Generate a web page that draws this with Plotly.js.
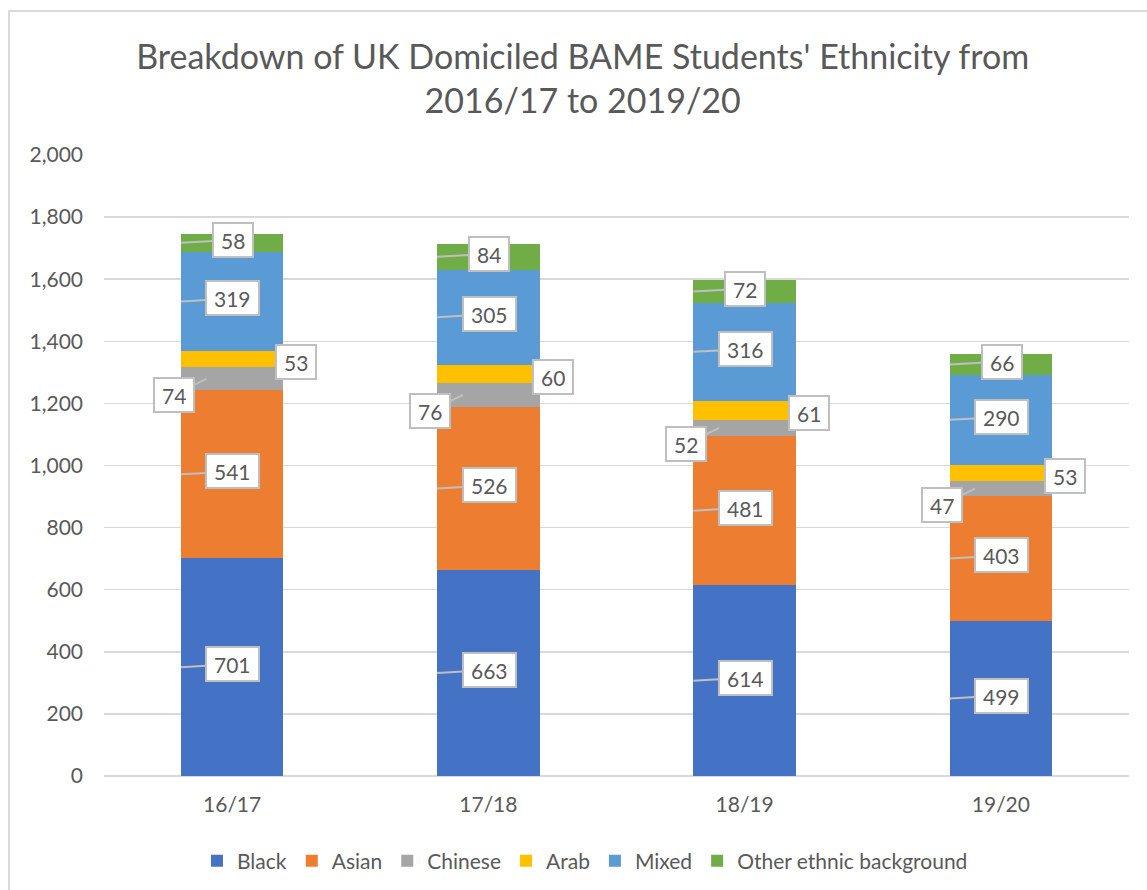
<!DOCTYPE html>
<html>
<head>
<meta charset="utf-8">
<script src="https://cdn.plot.ly/plotly-3.0.1.min.js"></script>
<style>
  html, body { margin: 0; padding: 0; background: #ffffff; overflow: hidden; }
  #frame { position: absolute; left: 8px; top: 10px; width: 1300px; height: 1000px; border: 2px solid #d9d9d9; box-sizing: border-box; }
  #chart { position: absolute; left: 0; top: 0; width: 1147px; height: 890px; }
</style>
</head>
<body>
<div id="frame"></div>
<div id="chart"></div>
<script>
// ---- data ----
const categories = ['16/17', '17/18', '18/19', '19/20'];
const seriesNames = ['Black', 'Asian', 'Chinese', 'Arab', 'Mixed', 'Other ethnic background'];
const black   = [701, 663, 614, 499];
const asian   = [541, 526, 481, 403];
const chinese = [74, 76, 52, 47];
const arab    = [53, 60, 61, 53];
const mixed   = [319, 305, 316, 290];
const other   = [58, 84, 72, 66];
const titleText = "Breakdown of UK Domiciled BAME Students' Ethnicity from<br>2016/17 to 2019/20";

// ---- styling ----
const values = [black, asian, chinese, arab, mixed, other];
const colors = ['#4472C4', '#ED7D31', '#A5A5A5', '#FFC000', '#5B9BD5', '#70AD47'];
const labelMode = ['inside', 'inside', 'left', 'right', 'inside', 'inside'];
const FONT = "Lato, 'Open Sans', sans-serif";
const TXT = '#595959';
const bargap = 0.6;
const halfW = (1 - bargap) / 2;

const traces = seriesNames.map((name, k) => ({
  type: 'bar',
  name: name,
  x: categories,
  y: values[k],
  marker: { color: colors[k] },
  hoverinfo: 'name+y'
}));

const annotations = [];
values.forEach((vals, k) => {
  vals.forEach((v, i) => {
    let base = 0;
    for (let j = 0; j < k; j++) base += values[j][i];
    const mid = base + v / 2;
    const common = {
      text: String(v),
      font: { family: FONT, size: 21, color: TXT },
      bgcolor: '#ffffff',
      bordercolor: '#bfbfbf',
      borderwidth: 2,
      borderpad: 7,
      height: 18,
      xref: 'x', yref: 'y'
    };
    if (labelMode[k] === 'inside') {
      annotations.push(Object.assign(common, {
        x: i - halfW, y: mid, showarrow: true, arrowhead: 0,
        arrowwidth: 2, arrowcolor: '#bfbfbf', ax: 52, ay: -3
      }));
    } else if (labelMode[k] === 'left') {
      annotations.push(Object.assign(common, {
        x: i - halfW + 0.1, y: mid, showarrow: true, arrowhead: 0,
        arrowwidth: 2, arrowcolor: '#bfbfbf', ax: -33, ay: 16
      }));
    } else {
      annotations.push(Object.assign(common, {
        x: i + halfW, y: mid, showarrow: false, xshift: 13, yshift: -3
      }));
    }
  });
});

const layout = {
  width: 1147, height: 890,
  paper_bgcolor: 'rgba(0,0,0,0)',
  plot_bgcolor: 'rgba(0,0,0,0)',
  barmode: 'stack',
  bargap: bargap,
  margin: { l: 104, r: 18, t: 155, b: 114 },
  font: { family: FONT, color: TXT, size: 21 },
  title: {
    text: titleText,
    font: { family: FONT, size: 34, color: TXT },
    x: 0.508, xref: 'container', xanchor: 'center',
    y: 1 - 69 / 890, yref: 'container', yanchor: 'middle'
  },
  xaxis: {
    type: 'category',
    range: [-0.5, 3.5],
    showgrid: false, showline: false, zeroline: false,
    ticks: '', ticklabelstandoff: 14,
    tickfont: { family: FONT, size: 21, color: TXT }
  },
  yaxis: {
    range: [0, 2000], dtick: 200, tickformat: ',d',
    showgrid: true, gridcolor: '#d9d9d9', gridwidth: 1.5,
    zeroline: true, zerolinecolor: '#d9d9d9', zerolinewidth: 1.5,
    showline: false, ticks: '', ticklabelstandoff: 20,
    tickfont: { family: FONT, size: 21, color: TXT }
  },
  legend: {
    orientation: 'h', x: 0.51, xref: 'container', xanchor: 'center',
    y: 1 - 861 / 890, yref: 'container', yanchor: 'middle',
    font: { family: FONT, size: 21, color: TXT },
    itemwidth: 30, traceorder: 'normal'
  },
  annotations: annotations,
  showlegend: true
};

Plotly.newPlot('chart', traces, layout, { displayModeBar: false, staticPlot: true });
</script>
</body>
</html>
